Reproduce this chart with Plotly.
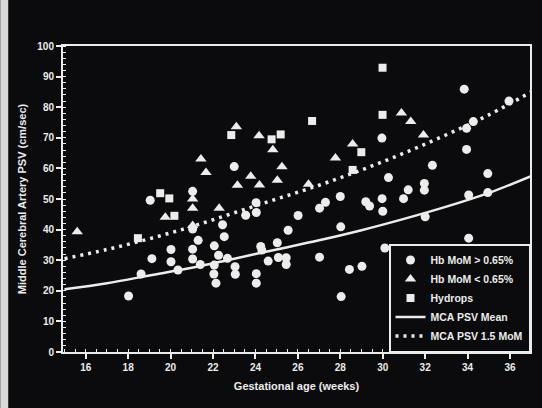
import plotly.graph_objects as go

# ---- data ----
circ_ga = [18.02, 18.61, 19.04, 19.12, 20.02, 20.02, 20.35, 21.04, 21.04, 21.3, 21.04, 21.04, 21.4,
           22.06, 22.26, 22.06, 22.04, 22.14, 22.45, 22.53, 22.68, 23.0, 23.04, 23.05, 23.54, 24.03,
           24.04, 24.25, 24.3, 24.04, 24.04, 24.6, 25.03, 25.08, 25.45, 25.45, 25.54, 26.01, 27.02,
           27.3, 27.02, 28.0, 28.02, 28.04, 28.43, 29.02, 29.2, 29.38, 29.97, 30.0, 29.96, 30.27,
           30.1, 30.98, 31.2, 31.96, 31.96, 32.0, 32.34, 33.84, 33.95, 34.27, 33.95, 34.05, 34.05,
           34.95, 34.95, 35.95]
circ_v = [18.3, 25.5, 49.6, 30.5, 33.5, 29.5, 26.8, 52.5, 40.2, 36.5, 33.6, 30.4, 28.6,
          34.7, 31.6, 28.4, 25.5, 22.5, 41.6, 37.7, 30.6, 60.6, 27.9, 25.4, 44.7, 48.8,
          45.6, 34.5, 33.3, 25.6, 22.5, 29.7, 35.7, 30.9, 30.8, 28.6, 39.8, 44.6, 47.0,
          48.9, 31.0, 50.8, 40.9, 18.1, 27.0, 28.0, 49.1, 47.7, 50.1, 46.0, 69.9, 57.0,
          34.0, 50.1, 53.0, 55.1, 52.9, 44.2, 61.0, 85.9, 73.1, 75.3, 66.2, 51.3, 37.2,
          58.3, 52.1, 82.0]

tri_ga = [15.6, 19.75, 21.04, 21.04, 21.04, 21.43, 21.67, 22.29, 23.1, 23.15, 23.78, 24.17, 24.19,
          24.82, 25.03, 25.25, 26.5, 27.77, 28.58, 30.88, 31.32, 31.92]
tri_v = [39.3, 44.0, 50.0, 47.0, 41.3, 63.1, 58.7, 47.0, 73.6, 54.5, 57.4, 70.7, 54.6,
         66.1, 56.1, 60.5, 54.8, 63.4, 68.0, 78.1, 75.3, 70.9]

sq_ga = [18.46, 19.51, 19.94, 20.18, 22.86, 24.76, 25.19, 26.67, 28.58, 28.99, 29.99, 29.99]
sq_v = [37.2, 51.9, 50.2, 44.5, 70.9, 69.5, 71.1, 75.5, 59.5, 65.3, 92.9, 77.5]

curve_ga = [15, 17, 19, 21, 23, 25, 27, 29, 31, 33, 35, 37]
mean_v = [20.5, 22.5, 25.0, 27.5, 30.5, 33.5, 36.5, 39.8, 43.5, 47.5, 52.0, 57.5]
mom15_v = [30.5, 33.5, 37.0, 41.0, 45.5, 50.0, 54.5, 59.5, 65.0, 71.0, 77.5, 85.0]

x_ticks = [16, 18, 20, 22, 24, 26, 28, 30, 32, 34, 36]
y_ticks = [0, 10, 20, 30, 40, 50, 60, 70, 80, 90, 100]

FG = "#ececec"
BG = "#0b0b0d"
FONT = "Liberation Sans"

fig = go.Figure()
fig.add_trace(go.Scatter(x=curve_ga, y=mean_v, mode="lines", name="MCA PSV Mean",
                         line=dict(color=FG, width=2.5, shape="spline"), legendrank=4))
fig.add_trace(go.Scatter(x=curve_ga, y=mom15_v, mode="lines", name="MCA PSV 1.5 MoM",
                         line=dict(color=FG, width=3.5, shape="spline", dash="3px,5px"), legendrank=5))
fig.add_trace(go.Scatter(x=circ_ga, y=circ_v, mode="markers", name="Hb MoM > 0.65%",
                         marker=dict(symbol="circle", size=9, color=FG, line=dict(width=0)), legendrank=1))
fig.add_trace(go.Scatter(x=tri_ga, y=tri_v, mode="markers", name="Hb MoM < 0.65%",
                         marker=dict(symbol="triangle-up", size=10, color=FG, line=dict(width=0)), legendrank=2))
fig.add_trace(go.Scatter(x=sq_ga, y=sq_v, mode="markers", name="Hydrops",
                         marker=dict(symbol="square", size=8, color=FG, line=dict(width=0)), legendrank=3))

axis_common = dict(showgrid=False, zeroline=False, showline=True, linecolor=FG, linewidth=2,
                   mirror=True, ticks="outside", tickcolor=FG, tickwidth=1.5, ticklen=5,
                   tickfont=dict(family=FONT, size=10, color=FG, weight="bold"))

fig.update_xaxes(range=[14.93, 36.94], tickvals=x_ticks, ticktext=[str(v) for v in x_ticks],
                 minor=dict(dtick=0.5, tick0=0, ticks="inside", ticklen=3, tickcolor=FG, tickwidth=1),
                 title=dict(text="Gestational age (weeks)", standoff=10,
                            font=dict(family=FONT, size=11, color=FG, weight="bold")),
                 **axis_common)
fig.update_yaxes(range=[0, 100], tickvals=y_ticks, ticktext=[str(v) for v in y_ticks],
                 minor=dict(dtick=2, tick0=0, ticks="inside", ticklen=3, tickcolor=FG, tickwidth=1),
                 title=dict(text="Middle Cerebral Artery PSV (cm/sec)", standoff=8,
                            font=dict(family=FONT, size=11, color=FG, weight="bold")),
                 **axis_common)

fig.update_layout(
    width=542, height=408,
    margin=dict(l=63, r=10, t=46, b=56),
    paper_bgcolor=BG, plot_bgcolor=BG,
    font=dict(family=FONT, color=FG),
    legend=dict(x=1, y=0, xanchor="right", yanchor="bottom", bgcolor=BG,
                bordercolor=FG, borderwidth=1.5, tracegroupgap=0, itemwidth=30,
                font=dict(family=FONT, size=10.5, color=FG, weight="bold")),
    showlegend=True,
    shapes=[dict(type="rect", xref="paper", yref="paper", x0=-63/469, x1=-55/469, y0=-56/306,
                 y1=1 + 46/306, fillcolor="#d9d9d9", line=dict(width=0), layer="below")],
)

fig.write_html("out.html")
